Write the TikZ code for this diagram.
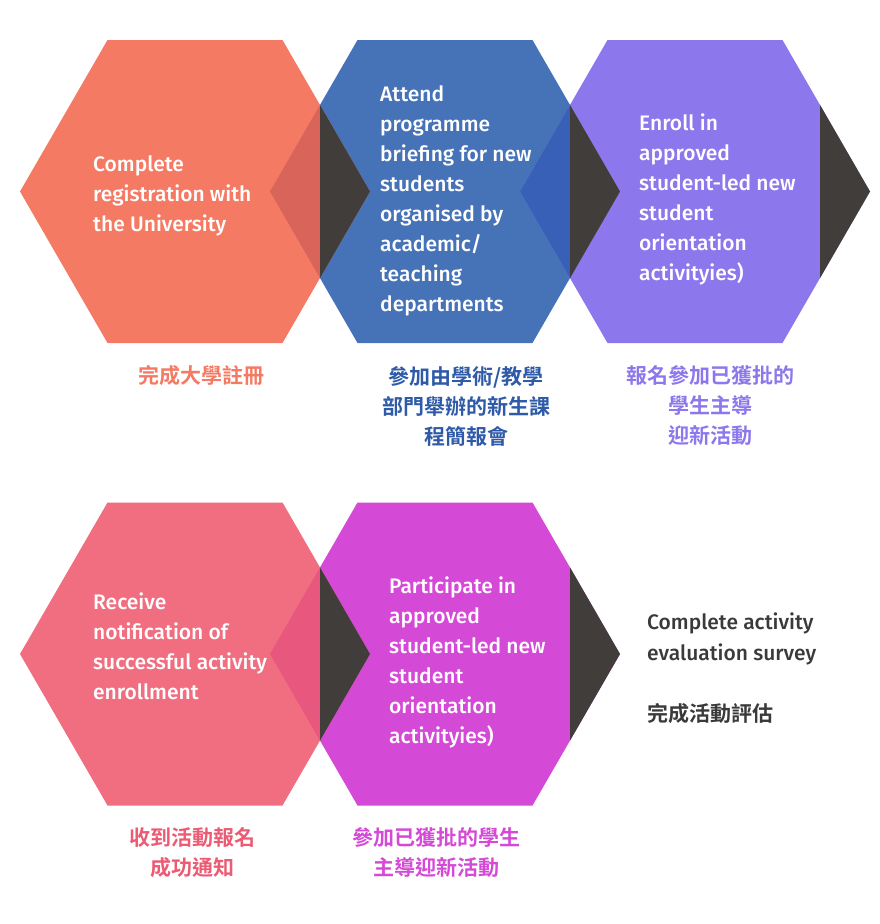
\documentclass[tikz,border=0pt]{standalone}
\usepackage{fontspec}
\setmainfont{Fira Sans}[UprightFont={* Medium}]
\newfontfamily\cjk{Noto Sans CJK TC}[UprightFont={* Bold}]
\definecolor{cOrange}{HTML}{F47A64}
\definecolor{cOrangeOv}{HTML}{D9655A}
\definecolor{cBlue}{HTML}{4673B8}
\definecolor{cBlueOv}{HTML}{3760B6}
\definecolor{cBlueTxt}{HTML}{2E5AA7}
\definecolor{cPurple}{HTML}{8C77EC}
\definecolor{cPink}{HTML}{F06E80}
\definecolor{cPinkOv}{HTML}{E8577E}
\definecolor{cPinkTxt}{HTML}{EC5B74}
\definecolor{cMagenta}{HTML}{D449D6}
\definecolor{cDark}{HTML}{403D3B}
\definecolor{cText}{HTML}{3A3A3A}
\newcommand\hexfill[3]{\fill[#3] (#1-175,#2) -- ++(87.5,-151.5) -- ++(175,0) -- ++(87.5,151.5) -- ++(-87.5,151.5) -- ++(-175,0) -- cycle;}
\newcommand\ovfill[3]{\fill[#3] (#1+75,#2) -- (#1+125,#2-86.6) -- (#1+125,#2+86.6) -- cycle;}
\newcommand\tipfill[2]{\fill[cDark] (#1+125,#2-86.6) -- (#1+175,#2) -- (#1+125,#2+86.6) -- cycle;}
\tikzset{
  hextext/.style={anchor=west, align=left, inner sep=0pt, text=white, font=\fontsize{21}{30}\selectfont},
  cjklabel/.style={align=center, inner sep=0pt, font=\cjk\fontsize{21}{30}\selectfont},
  plaintext/.style={anchor=west, align=left, inner sep=0pt, text=cText, font=\fontsize{21}{31}\selectfont}
}
\begin{document}
\begin{tikzpicture}[x=1pt,y=-1pt]
\useasboundingbox (0,0) rectangle (880,924);
% top row
\hexfill{445}{191.5}{cBlue}
\hexfill{695}{191.5}{cPurple}
\hexfill{195}{191.5}{cOrange}
\ovfill{195}{191.5}{cOrangeOv}
\ovfill{445}{191.5}{cBlueOv}
\tipfill{195}{191.5}
\tipfill{445}{191.5}
\tipfill{695}{191.5}
% bottom row
\hexfill{445}{654}{cMagenta}
\hexfill{195}{654}{cPink}
\ovfill{195}{654}{cPinkOv}
\tipfill{195}{654}
\tipfill{445}{654}
% texts in hexagons
\node[hextext] (t1) at (93,196) {Complete\\registration with\\the University};
\node[hextext] (t2) at (380,201) {Attend\\programme\\briefing for new\\students\\organised by\\academic/\\teaching\\departments};
\node[hextext] (t3) at (639,199) {Enroll in\\approved\\student-led new\\student\\orientation\\activityies)};
\node[hextext] (t4) at (93,646) {Receive\\notification of\\successful activity\\enrollment};
\node[hextext] (t5) at (389,662) {Participate in\\approved\\student-led new\\student\\orientation\\activityies)};
\node[plaintext] (t6) at (647,638.5) {Complete activity\\evaluation survey};
\node[cjklabel, anchor=west, text=cText] (c6) at (647,714) {完成活動評估};
% chinese labels
\node[cjklabel, text=cOrange] (c1) at (201,376) {完成大學註冊};
\node[cjklabel, text=cBlueTxt] (c2) at (466,406) {參加由學術/教學\\部門舉辦的新生課\\程簡報會};
\node[cjklabel, text=cPurple] (c3) at (710,406) {報名參加已獲批的\\學生主導\\迎新活動};
\node[cjklabel, text=cPinkTxt] (c4) at (192,853) {收到活動報名\\成功通知};
\node[cjklabel, text=cMagenta] (c5) at (436,853) {參加已獲批的學生\\主導迎新活動};
\end{tikzpicture}
\end{document}
